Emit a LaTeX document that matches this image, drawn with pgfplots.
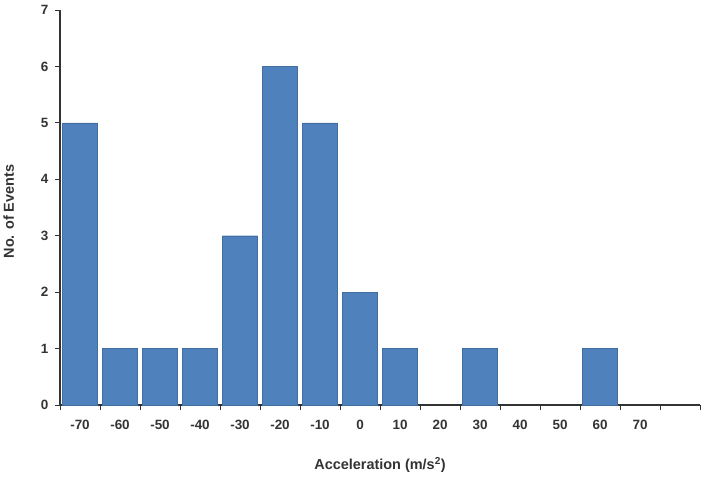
\documentclass[border=0pt]{standalone}
\usepackage{pgfplots}
\pgfplotsset{compat=1.18}
\usepackage{fontspec}
\setmainfont{Liberation Sans}
\definecolor{barblue}{HTML}{4F81BD}
\definecolor{axgray}{HTML}{333333}
\begin{document}
\begin{tikzpicture}
\begin{axis}[
  scale only axis,
  width=640bp, height=395bp,
  xmin=0, xmax=16, ymin=0, ymax=7,
  axis lines=left,
  axis line style={-, axgray, line width=1.1pt},
  tick style={axgray, line width=1pt},
  tick align=outside,
  major tick length=5bp,
  xtick={0,...,16},
  x tick label as interval,
  xticklabels={-70,-60,-50,-40,-30,-20,-10,0,10,20,30,40,50,60,70,{}},
  ytick={0,...,7},
  /pgf/number format/assume math mode=true,
  ticklabel style={font=\fontsize{13.5}{15}\selectfont\bfseries, text=axgray},
  x tick label style={yshift=-7bp},
  y tick label style={xshift=-3bp},
  xlabel={Acceleration (m/s\textsuperscript{2})},
  ylabel={No. of Events},
  label style={font=\fontsize{14.5}{16}\selectfont\bfseries, text=axgray},
  xlabel style={at={(axis description cs:0.5,-0.152)}, anchor=center},
  ylabel style={at={(axis description cs:-0.08,0.49)}, anchor=center},
  clip=false,
]
\addplot[ybar, bar width=0.88, fill=barblue, draw=barblue!85!black, line width=0.3pt, bar shift=0pt]
 coordinates {(0.5,5) (1.5,1) (2.5,1) (3.5,1) (4.5,3) (5.5,6) (6.5,5) (7.5,2) (8.5,1) (10.5,1) (13.5,1)};
\end{axis}
\path (-60bp,-75bp) rectangle (648bp,405bp);
\end{tikzpicture}
\end{document}
